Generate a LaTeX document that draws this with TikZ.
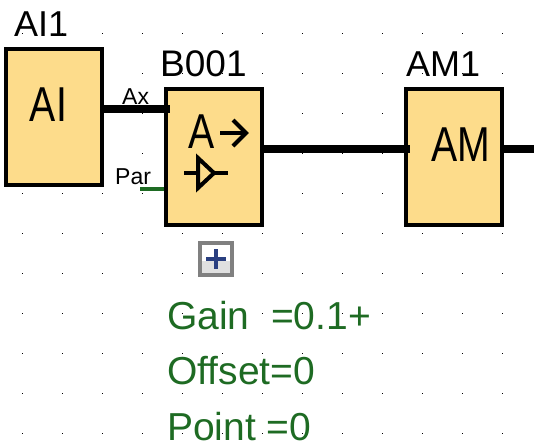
\documentclass[tikz,border=0pt]{standalone}
\usepackage{fontspec}
\setmainfont{Liberation Sans}
\usepackage{xcolor}
\usetikzlibrary{positioning}
\definecolor{blockfill}{HTML}{FDDC8B}
\definecolor{pargreen}{HTML}{1E6B23}
\definecolor{plusblue}{HTML}{2A3F80}

\begin{document}
\begin{tikzpicture}[
    x=1pt,y=-1pt,
    block/.style={rectangle,draw=black,line width=4pt,fill=blockfill,minimum width=96pt,
                  minimum height=136pt,inner sep=0pt},
    blockname/.style={anchor=base west,inner sep=0pt,font=\fontsize{36}{36}\selectfont},
    blocksym/.style={anchor=base,inner sep=0pt,xscale=.8,font=\fontsize{49}{49}\selectfont},
    pinname/.style={anchor=base west,inner sep=0pt,font=\fontsize{23}{23}\selectfont},
    param/.style={anchor=base west,inner sep=0pt,text=pargreen,font=\fontsize{39}{39}\selectfont},
    wire/.style={line width=8pt,black},
    parwire/.style={line width=4pt,pargreen},
    sym/.style={line width=4pt,black,miter limit=4}
  ]
    \useasboundingbox (0,0) rectangle (538,445);
    % grid
    \foreach \gx in {22,62,...,502}
      \foreach \gy in {33,73,...,433}
        \fill[black] (\gx-.5,\gy-.5) rectangle (\gx+.5,\gy+.5);

    \node[block,anchor=north west] (aibox) at (4,47) {};
    \node[block,right=60pt of aibox,yshift=-40pt] (b001) {};
    \node[block,right=140pt of b001] (am1) {};

    \node[blockname] (ainame) at (14,36) {AI1};
    \node[blockname,font=\fontsize{37}{37}\selectfont] (bname) at (160,76) {B001};
    \node[blockname] (amname) at (406,76) {AM1};

    \node[blocksym] (aisym) at (48.5,121) {AI};
    \node[blocksym,anchor=base west] (asym) at (188,148) {A};
    \node[blocksym] (amsym) at (460.5,161) {AM};

    % pins
    \coordinate (axin) at ([xshift=6pt,yshift=48pt]b001.west);
    \coordinate (parin) at ([yshift=-32pt]b001.west);
    \coordinate (parend) at ([xshift=-24pt]parin);
    \coordinate (amin) at ([xshift=6pt,yshift=8pt]am1.west);
    \coordinate (amout) at ([xshift=30pt,yshift=8pt]am1.east);

    \draw[wire] (aibox.east |- axin) -- (axin);
    \draw[wire] (b001.east |- amin) -- (amin);
    \draw[wire] (am1.east |- amout) -- (amout);
    \draw[parwire] (parend) -- (parin);

    \node[pinname] (axname) at (122,104) {Ax};
    \node[pinname] (parname) at (115,184) {Par};

    % symbols in B001
    \draw[sym] (220,133) -- (246,133);
    \draw[sym] (233,120) -- (246,133) -- (233,146);
    \draw[sym] (198,158) -- (214,173) -- (198,188) -- cycle;
    \draw[sym] (184,173) -- (198,173);
    \draw[sym] (214,173) -- (228,173);

    % plus button
    \fill[white] (198,241) rectangle (234,261);
    \fill[black!12] (198,261) rectangle (234,277);
    \draw[line width=4pt,black!50] (200,243) rectangle (232,275);
    \fill[plusblue] (206,257) rectangle (226,261);
    \fill[plusblue] (214,249) rectangle (218,269);

    \node[param] (gain) at (167,329) {Gain\ \ =0.1+};
    \node[param] (offset) at (167,384) {Offset=0};
    \node[param] (point) at (167,440) {Point =0};
  \end{tikzpicture}
\end{document}
